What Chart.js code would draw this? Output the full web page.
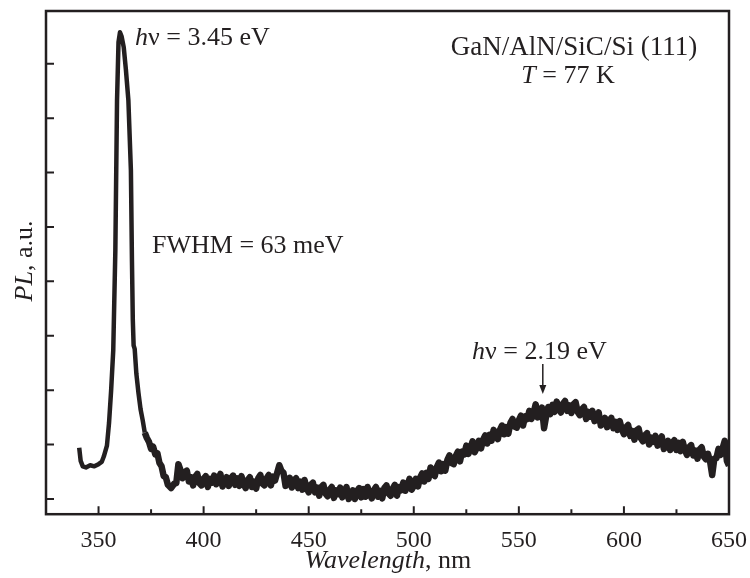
<!DOCTYPE html>
<html>
<head>
<meta charset="utf-8">
<script src="https://cdn.jsdelivr.net/npm/chart.js@4.4.1/dist/chart.umd.min.js"></script>
<style>
  html, body { margin: 0; padding: 0; background: #fff; }
</style>
</head>
<body>
<canvas id="pl-chart" width="750" height="578"></canvas>
<script>
// exciton peak region (nm, a.u.)
var peakWl = [340.8, 341.5, 342.5, 344, 346, 348, 350, 351.5, 352.5, 354,
              355, 356, 357, 358, 358.8, 359.5, 360.2, 361, 362, 363,
              364.2, 365.4, 365.9, 366.3, 366.7, 367.2, 368, 369, 370, 371,
              372, 373, 374, 375, 376, 377, 378, 379, 380, 381,
              382, 383, 384.5];
var peakPl = [0.94, 0.70, 0.60, 0.58, 0.62, 0.60, 0.64, 0.68, 0.78, 0.98,
              1.40, 2.00, 2.73, 4.57, 7.33, 8.40, 8.58, 8.50, 8.30, 7.90,
              7.33, 6.04, 4.38, 3.30, 2.82, 2.76, 2.30, 1.95, 1.65, 1.45,
              1.22, 1.12, 1.05, 0.92, 0.96, 0.82, 0.84, 0.66, 0.60, 0.42,
              0.40, 0.26, 0.20];

// yellow band region, 1 nm steps
var bandWl = [386, 387, 388, 389, 390, 391, 392, 393, 394, 395,
              396, 397, 398, 399, 400, 401, 402, 403, 404, 405,
              406, 407, 408, 409, 410, 411, 412, 413, 414, 415,
              416, 417, 418, 419, 420, 421, 422, 423, 424, 425,
              426, 427, 428, 429, 430, 431, 432, 433, 434, 435,
              436, 437, 438, 439, 440, 441, 442, 443, 444, 445,
              446, 447, 448, 449, 450, 451, 452, 453, 454, 455,
              456, 457, 458, 459, 460, 461, 462, 463, 464, 465,
              466, 467, 468, 469, 470, 471, 472, 473, 474, 475,
              476, 477, 478, 479, 480, 481, 482, 483, 484, 485,
              486, 487, 488, 489, 490, 491, 492, 493, 494, 495,
              496, 497, 498, 499, 500, 501, 502, 503, 504, 505,
              506, 507, 508, 509, 510, 511, 512, 513, 514, 515,
              516, 517, 518, 519, 520, 521, 522, 523, 524, 525,
              526, 527, 528, 529, 530, 531, 532, 533, 534, 535,
              536, 537, 538, 539, 540, 541, 542, 543, 544, 545,
              546, 547, 548, 549, 550, 551, 552, 553, 554, 555,
              556, 557, 558, 559, 560, 561, 562, 563, 564, 565,
              566, 567, 568, 569, 570, 571, 572, 573, 574, 575,
              576, 577, 578, 579, 580, 581, 582, 583, 584, 585,
              586, 587, 588, 589, 590, 591, 592, 593, 594, 595,
              596, 597, 598, 599, 600, 601, 602, 603, 604, 605,
              606, 607, 608, 609, 610, 611, 612, 613, 614, 615,
              616, 617, 618, 619, 620, 621, 622, 623, 624, 625,
              626, 627, 628, 629, 630, 631, 632, 633, 634, 635,
              636, 637, 638, 639, 640, 641, 642, 643, 644, 645,
              646, 647, 648, 649, 650];
var bandPl = [0.28, 0.29, 0.64, 0.53, 0.38, 0.49, 0.52, 0.32, 0.40, 0.25,
              0.41, 0.46, 0.29, 0.25, 0.37, 0.42, 0.22, 0.37, 0.30, 0.43,
              0.27, 0.36, 0.46, 0.23, 0.29, 0.40, 0.24, 0.37, 0.43, 0.26,
              0.38, 0.24, 0.42, 0.28, 0.20, 0.35, 0.40, 0.22, 0.32, 0.19,
              0.38, 0.44, 0.28, 0.25, 0.38, 0.44, 0.25, 0.41, 0.34, 0.48,
              0.62, 0.52, 0.48, 0.24, 0.29, 0.39, 0.21, 0.34, 0.38, 0.20,
              0.32, 0.17, 0.35, 0.20, 0.12, 0.26, 0.30, 0.12, 0.21, 0.06,
              0.22, 0.26, 0.10, 0.05, 0.17, 0.22, 0.02, 0.16, 0.09, 0.21,
              0.03, 0.12, 0.22, 0.00, 0.05, 0.16, 0.00, 0.14, 0.20, 0.03,
              0.18, 0.04, 0.22, 0.09, 0.01, 0.16, 0.22, 0.04, 0.15, 0.01,
              0.20, 0.25, 0.10, 0.06, 0.19, 0.26, 0.06, 0.22, 0.16, 0.30,
              0.15, 0.25, 0.37, 0.17, 0.24, 0.37, 0.23, 0.39, 0.47, 0.32,
              0.48, 0.37, 0.58, 0.47, 0.42, 0.59, 0.67, 0.51, 0.64, 0.52,
              0.72, 0.80, 0.66, 0.64, 0.79, 0.87, 0.69, 0.87, 0.82, 0.98,
              0.83, 0.94, 1.06, 0.86, 0.94, 1.07, 0.93, 1.09, 1.17, 1.02,
              1.18, 1.07, 1.27, 1.16, 1.10, 1.27, 1.35, 1.19, 1.32, 1.20,
              1.40, 1.47, 1.33, 1.31, 1.45, 1.53, 1.35, 1.52, 1.47, 1.62,
              1.47, 1.58, 1.74, 1.50, 1.56, 1.68, 1.30, 1.52, 1.69, 1.56,
              1.73, 1.60, 1.79, 1.66, 1.59, 1.75, 1.80, 1.62, 1.72, 1.58,
              1.74, 1.78, 1.60, 1.54, 1.65, 1.69, 1.47, 1.60, 1.51, 1.62,
              1.43, 1.50, 1.59, 1.35, 1.40, 1.49, 1.32, 1.44, 1.49, 1.30,
              1.42, 1.27, 1.43, 1.28, 1.19, 1.32, 1.36, 1.16, 1.25, 1.09,
              1.26, 1.29, 1.12, 1.06, 1.17, 1.21, 1.00, 1.13, 1.05, 1.16,
              0.98, 1.06, 1.15, 0.92, 0.97, 1.07, 0.90, 1.03, 1.08, 0.90,
              1.03, 0.88, 1.05, 0.90, 0.81, 0.95, 0.99, 0.80, 0.89, 0.74,
              0.91, 0.95, 0.78, 0.73, 0.83, 0.69, 0.44, 0.74, 0.75, 0.92,
              0.81, 0.94, 1.07, 0.70, 0.61];

var xTicks = [350, 400, 450, 500, 550, 600, 650];
var xMinorTicks = [375, 425, 475, 525, 575, 625];
var yTicks = [0, 1, 2, 3, 4, 5, 6, 7, 8];

var ink = '#231f20';
var serif = '"Liberation Serif", "Times New Roman", serif';

var points = [];
peakWl.forEach(function (w, i) { points.push({ x: w, y: peakPl[i] }); });
bandWl.forEach(function (w, i) { points.push({ x: w, y: bandPl[i] }); });

// draws text made of [string, italic] pieces
function richText(ctx, parts, x, y, size, align) {
    var total = 0;
    parts.forEach(function (p) {
        ctx.font = (p[1] ? 'italic ' : '') + size + 'px ' + serif;
        total += ctx.measureText(p[0]).width;
    });
    var cx = align === 'center' ? x - total / 2 : x;
    parts.forEach(function (p) {
        ctx.font = (p[1] ? 'italic ' : '') + size + 'px ' + serif;
        ctx.fillText(p[0], cx, y);
        cx += ctx.measureText(p[0]).width;
    });
}

var decor = {
    id: 'decor',
    afterDraw: function (chart) {
        var ctx = chart.ctx, a = chart.chartArea;
        var xs = chart.scales.x, ys = chart.scales.y;
        ctx.save();
        ctx.strokeStyle = ink;
        ctx.fillStyle = ink;

        // inward ticks
        ctx.lineWidth = 2;
        ctx.beginPath();
        xTicks.forEach(function (v) {
            var px = xs.getPixelForValue(v);
            ctx.moveTo(px, a.bottom); ctx.lineTo(px, a.bottom - 8);
        });
        xMinorTicks.forEach(function (v) {
            var px = xs.getPixelForValue(v);
            ctx.moveTo(px, a.bottom); ctx.lineTo(px, a.bottom - 5);
        });
        yTicks.forEach(function (v) {
            var py = ys.getPixelForValue(v);
            ctx.moveTo(a.left, py); ctx.lineTo(a.left + 8, py);
        });
        ctx.stroke();

        // frame
        ctx.lineWidth = 2.5;
        ctx.strokeRect(a.left, a.top, a.right - a.left, a.bottom - a.top);

        ctx.textBaseline = 'alphabetic';
        richText(ctx, [['h', true], ['\u03bd = 3.45 eV', false]], 135, 45, 26, 'left');
        richText(ctx, [['GaN/AlN/SiC/Si (111)', false]], 574, 55, 27, 'center');
        richText(ctx, [['T', true], [' = 77 K', false]], 568, 83, 26, 'center');
        richText(ctx, [['FWHM = 63 meV', false]], 152, 253, 26, 'left');
        richText(ctx, [['h', true], ['\u03bd = 2.19 eV', false]], 472, 359, 26, 'left');

        // arrow to the yellow band maximum
        var ax = xs.getPixelForValue(561.4);
        ctx.lineWidth = 1.5;
        ctx.beginPath();
        ctx.moveTo(ax, 364); ctx.lineTo(ax, 388);
        ctx.stroke();
        ctx.beginPath();
        ctx.moveTo(ax - 3.5, 385); ctx.lineTo(ax + 3.5, 385); ctx.lineTo(ax, 394);
        ctx.closePath();
        ctx.fill();

        // axis titles
        richText(ctx, [['Wavelength', true], [', nm', false]], 388, 568, 26, 'center');
        ctx.translate(32, 261);
        ctx.rotate(-Math.PI / 2);
        richText(ctx, [['PL', true], [', a.u.', false]], 0, 0, 26, 'center');
        ctx.restore();
    }
};

var ctx = document.getElementById('pl-chart').getContext('2d');
var myChart = new Chart(ctx, {
    type: 'line',
    data: {
        datasets: [{
            data: points,
            borderColor: ink,
            borderWidth: 4.5,
            pointRadius: 0,
            tension: 0,
            borderJoinStyle: 'round',
            // noisy tail is drawn as a wider band, like overlapping scans
            segment: {
                borderWidth: function (c) { return c.p0.parsed.x >= 372 ? 6.5 : 4.5; }
            }
        }]
    },
    options: {
        responsive: false,
        animation: false,
        layout: { padding: { left: 46, right: 21, top: 11, bottom: 11 } },
        plugins: { legend: { display: false }, tooltip: { enabled: false } },
        scales: {
            x: {
                type: 'linear',
                min: 325,
                max: 650,
                afterBuildTicks: function (s) { s.ticks = xTicks.map(function (v) { return { value: v }; }); },
                afterFit: function (s) { s.paddingRight = 0; },
                ticks: { color: ink, padding: 12, maxRotation: 0, autoSkip: false, font: { family: serif, size: 24 } },
                grid: { display: false, drawTicks: false },
                border: { display: false }
            },
            y: {
                type: 'linear',
                min: -0.28,
                max: 8.97,
                afterBuildTicks: function (s) { s.ticks = yTicks.map(function (v) { return { value: v }; }); },
                ticks: { display: false },
                grid: { display: false, drawTicks: false },
                border: { display: false }
            }
        }
    },
    plugins: [decor]
});
</script>
</body>
</html>
